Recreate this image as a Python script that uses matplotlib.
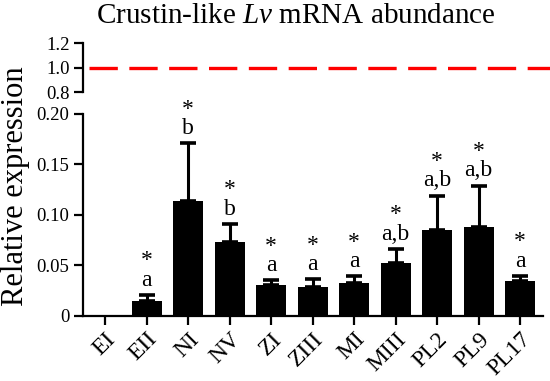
import matplotlib
matplotlib.use("Agg")
import matplotlib.pyplot as plt
import numpy as np

stages = ["EI", "EII", "NI", "NV", "ZI", "ZIII", "MI", "MIII", "PL2", "PL9", "PL17"]
values = [0.0, 0.0145, 0.114, 0.073, 0.030, 0.0286, 0.032, 0.052, 0.085, 0.088, 0.034]
errors = [0.0, 0.0058, 0.057, 0.018, 0.005, 0.0074, 0.007, 0.014, 0.034, 0.041, 0.0052]
letters = ["", "a", "b", "b", "a", "a", "a", "a,b", "a,b", "a,b", "a"]
stars = ["", "*", "*", "*", "*", "*", "*", "*", "*", "*", "*"]
reference_level = 1.0
top_ticks = [0.8, 1.0, 1.2]
main_ticks = [0, 0.05, 0.10, 0.15, 0.20]
main_ticklabels = ["0", "0.05", "0.10", "0.15", "0.20"]

plt.rcParams['font.family'] = ['Liberation Serif', 'DejaVu Serif']
plt.rcParams['mathtext.fontset'] = 'custom'
plt.rcParams['mathtext.it'] = 'Liberation Serif:italic'
plt.rcParams['mathtext.rm'] = 'Liberation Serif'

W, H = 550, 381
fig = plt.figure(figsize=(W / 100, H / 100), dpi=100)

left = 83.3 / W
right = 543 / W
ax = fig.add_axes([left, (H - 315.5) / H, right - left, (315.5 - 114) / H])
axt = fig.add_axes([left, (H - 92.3) / H, 1.0 - left, (92.3 - 43.3) / H])

x = np.arange(len(stages))
ax.bar(x, values, width=0.73, color="black", zorder=2)
ax.errorbar(x[1:], values[1:], yerr=[np.zeros(len(x) - 1), errors[1:]], fmt="none",
            ecolor="black", elinewidth=2.2, capsize=6, capthick=2.6, zorder=3)

for xi, v, e, l, s in zip(x, values, errors, letters, stars):
    if not l:
        continue
    ytop = v + e
    ax.annotate(l, (xi, ytop), xytext=(0, 3), textcoords="offset points",
                ha="center", va="bottom", fontsize=17)
    ax.annotate(s, (xi, ytop), xytext=(0, 17), textcoords="offset points",
                ha="center", va="bottom", fontsize=17)

ax.set_xlim(-0.53, 10.55)
ax.set_ylim(0, 0.20)
ax.set_yticks(main_ticks)
ax.set_yticklabels(main_ticklabels)
ax.set_xticks(x)
ax.set_xticklabels(stages, rotation=45, ha="right", rotation_mode="anchor")
for sp in ["top", "right"]:
    ax.spines[sp].set_visible(False)
for sp in ["left", "bottom"]:
    ax.spines[sp].set_linewidth(1.6)
ax.tick_params(axis="both", width=1.6, length=6.5, direction="out")
ax.tick_params(axis="y", labelsize=13.5)
ax.tick_params(axis="x", labelsize=17, pad=3)
ax.set_ylabel("Relative expression", fontsize=22)
ax.yaxis.set_label_coords(-0.116, 0.64)

axt.set_ylim(0.8, 1.2)
axt.set_xlim(0, 1)
axt.set_yticks(top_ticks)
axt.set_yticklabels(["0.8", "1.0", "1.2"])
axt.set_xticks([])
for sp in ["top", "right", "bottom"]:
    axt.spines[sp].set_visible(False)
axt.spines["left"].set_linewidth(1.6)
axt.tick_params(axis="y", width=1.6, length=6.5, labelsize=13.5)
axt.axhline(reference_level, xmin=0.0129, xmax=1.0, color="#ff0000", lw=2.4,
            dashes=(8.5, 3.45))
axt.patch.set_alpha(0)

fig.text(0.538, 0.958, "Crustin-like $\\mathit{Lv}$ mRNA abundance", ha="center",
         va="center", fontsize=21)

fig.savefig("out.png", dpi=100)
